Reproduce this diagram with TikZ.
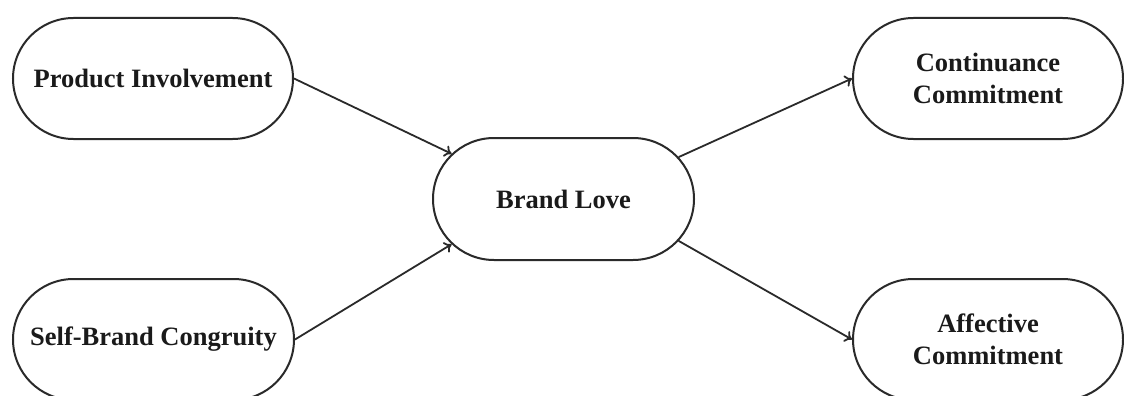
\documentclass[tikz,border=0pt]{standalone}
\usepackage{fontspec}
\setmainfont{Liberation Serif}
\usetikzlibrary{shapes.misc,arrows.meta}
\definecolor{linegray}{HTML}{2A2A2A}
\definecolor{textgray}{HTML}{1A1A1A}
\begin{document}
\begin{tikzpicture}[x=1pt,y=-1pt,
  pill/.style={rounded rectangle, draw=linegray, line width=2pt, fill=white,
    minimum height=121pt, inner sep=0pt, align=center, text=textgray,
    font=\fontsize{26.5}{31.5}\selectfont\bfseries},
  link/.style={draw=linegray, line width=1.8pt, -{To[length=7pt,width=12pt]}}]
\useasboundingbox (0,0) rectangle (1124,396);
\fill[white] (0,0) rectangle (1124,396);
\node[pill, minimum width=280pt] (pi) at (153,78.5) {Product Involvement};
\node[pill, minimum width=281pt] (sbc) at (153.5,339.5) {Self-Brand Congruity};
\node[pill, minimum width=261pt, minimum height=122pt] (bl) at (563.5,199) {Brand Love};
\node[pill, minimum width=270pt] (cc) at (988,78.5) {Continuance\\Commitment};
\node[pill, minimum width=270pt] (ac) at (988,339.5) {Affective\\Commitment};
\draw[link] (pi.east) -- (bl.158);
\draw[link] (sbc.east) -- (bl.202);
\draw[link] (bl.20) -- (cc.west);
\draw[link] (bl.-20) -- (ac.west);
\end{tikzpicture}
\end{document}
